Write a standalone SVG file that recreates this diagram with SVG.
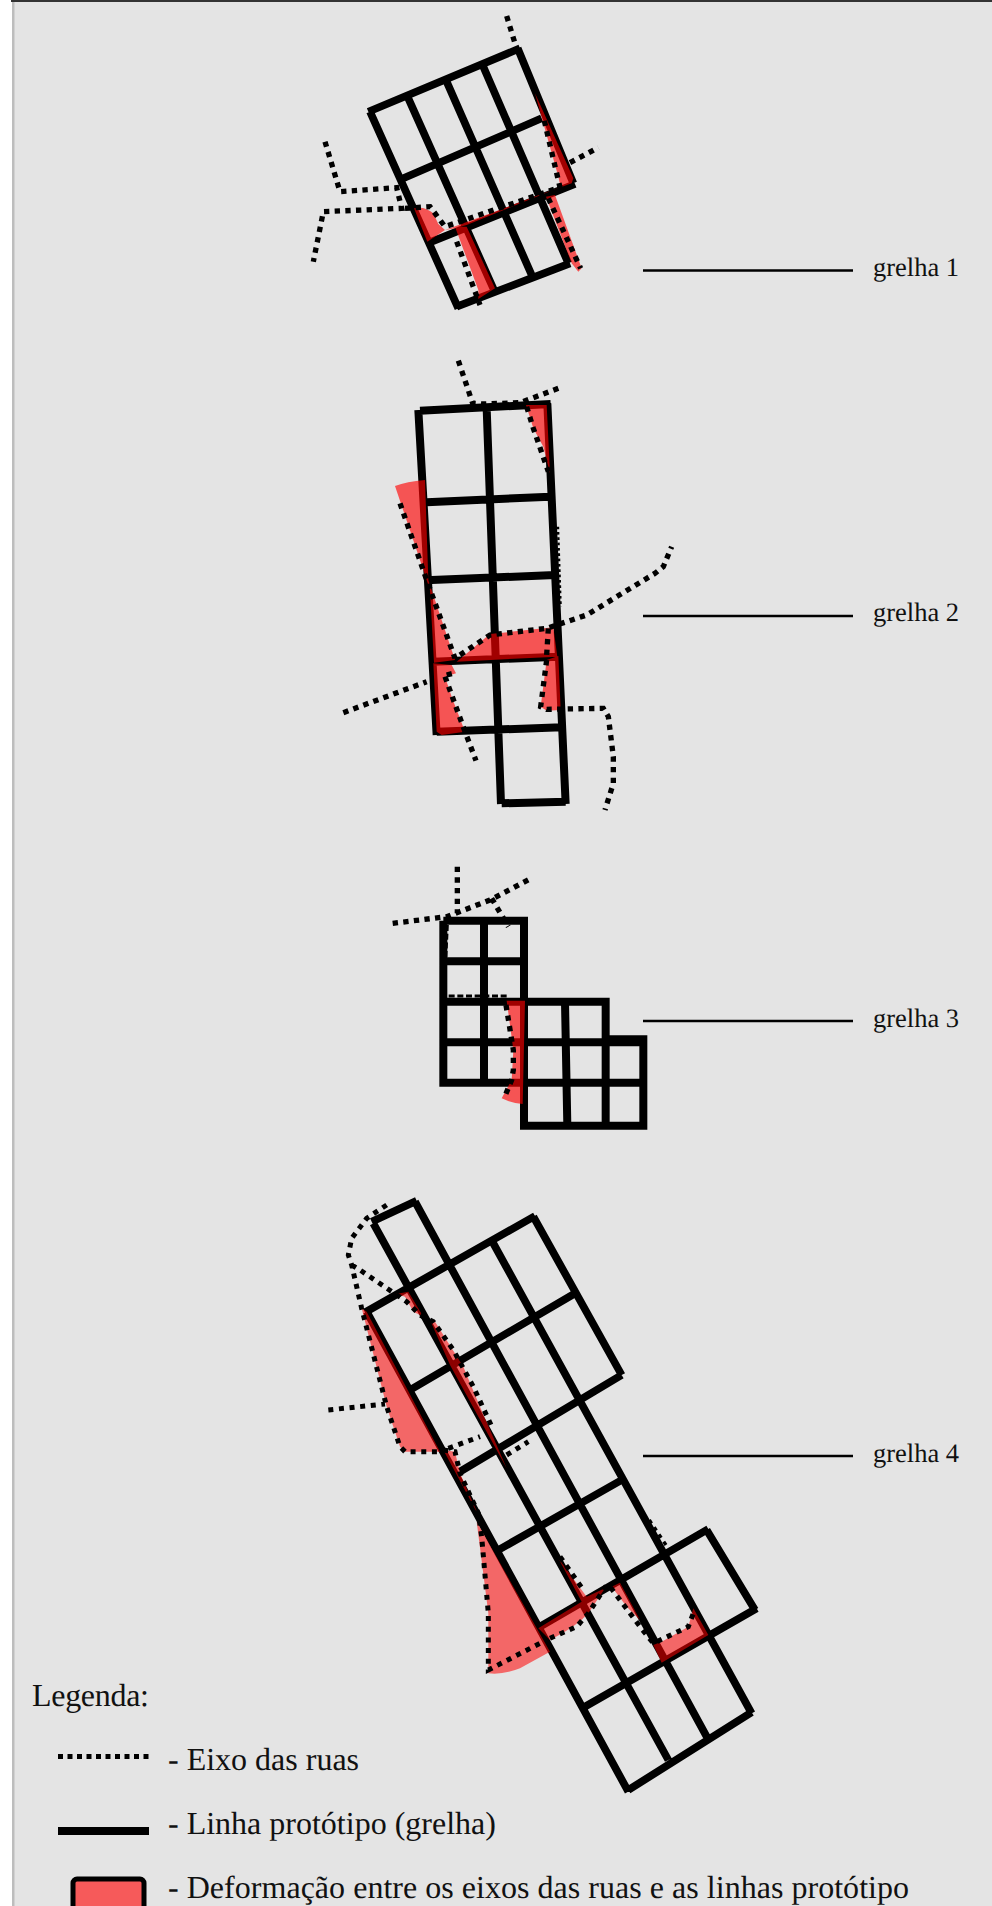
<svg xmlns="http://www.w3.org/2000/svg" width="992" height="1906" viewBox="0 0 992 1906">
<style>
.g{fill:none;stroke:#000;stroke-linecap:butt;stroke-linejoin:miter}
.d{fill:none;stroke:#000;stroke-linejoin:miter}
.r{fill:#ff0000;stroke:none}
.leader{stroke:#000;stroke-width:2.5;fill:none}
text{font-family:"Liberation Serif","Times New Roman",serif;fill:#111;text-rendering:geometricPrecision}
.lab{font-size:26.5px}
.leg{font-size:32px}
</style>
<rect x="0" y="0" width="992" height="1906" fill="#ffffff"/>
<rect x="12" y="0" width="980" height="1906" fill="#e4e4e4"/>
<rect x="12" y="0" width="2.5" height="1906" fill="#bdbdbd"/>
<rect x="11" y="0" width="981" height="2" fill="#333333"/>

<g id="grelha1" transform="translate(290,0) scale(0.33333)">
<path class="g" stroke-width="23" d="M240,335L505,925M355,295L612,870M470,245L725,825M580,200L835,790M683,145L850,550M235,335L690,145M340,535L755,355M425,725L855,552M500,920L840,790"/>
<path class="r" opacity="0.63" d="M372,625Q405,618 430,640L445,672L465,690L412,725ZM495,680L530,680L615,865L565,897L565,870ZM465,690L810,562L530,675L495,685ZM735,280L850,535L845,550L812,562L805,530L760,370ZM768,590L795,585L875,805L865,815L845,790Z"/>
<path class="d" stroke-width="16" stroke-dasharray="16 16" d="M650,48L675,130M105,425L150,575L320,563L335,625L100,635L70,785M345,625L420,620L465,680L810,562L760,350M840,488L925,443M500,725L570,915M775,595L872,805"/>
</g>

<g id="grelha2" transform="translate(320,340) scale(0.33333)">
<path class="d" stroke-width="7" stroke-dasharray="8 8" d="M714,560L722,800"/>
<path class="g" stroke-width="24" d="M295,210L350,1185M300,212L692,192M682,190L737,1392M500,205L543,1392M320,487L690,470M335,720L705,705M340,965L715,950M350,1175L725,1162M545,1390L737,1385"/>
<path class="r" opacity="0.63" d="M618,195L680,195L690,400L670,320L640,265ZM225,438Q260,425 315,420L325,720L405,960L342,968L330,750L310,690ZM410,965L510,882L700,862L712,950ZM340,970L395,975L408,1000L375,1010L395,1070L435,1175L365,1185L350,1175ZM680,960L715,948L722,1110L680,1112L662,1100Z"/>
<path class="d" stroke-width="16" stroke-dasharray="16 16" d="M415,62L458,190L490,192L600,188L725,141M620,200L640,265L685,395M240,490L320,720L405,955M375,1010L435,1175L468,1262M70,1118L320,1025M380,1005L408,998M420,945L510,885L680,865L800,825L1005,700L1030,680L1055,620M685,865L680,945M680,960L662,1100L680,1108L850,1105L865,1130L880,1250L880,1330L855,1410"/>
</g>

<g id="grelha3" transform="translate(370,850) scale(0.33333)">
<path class="d" stroke-width="9" stroke-dasharray="18 8" d="M232,225L222,440M210,438L410,438"/>
<path class="g" stroke-width="24" stroke-linejoin="round" stroke-linecap="round" d="M220,212H462V827H820V568H707M220,212V698H820M342,212V698M220,334H462M220,455H707V827M220,577H820M585,455L592,827"/>
<path class="r" opacity="0.63" d="M410,452L465,452L458,762Q425,760 395,745L425,690L430,600Z"/>
<path class="d" stroke-width="16" stroke-dasharray="16 16" d="M68,220L230,200L360,150L478,88M262,50L262,190M365,145L415,230M408,465L430,600L430,660L425,690L402,745"/>
</g>

<g id="grelha4" transform="translate(310,1180) scale(0.33333)">
<path class="d" stroke-width="10" stroke-dasharray="12 14" d="M1018,1020L1068,1095"/>
<path class="g" stroke-width="23" d="M170,395L955,1835M190,130L1075,1740M315,65L1190,1670M550,190L1325,1600M670,110L935,585M1190,1050L1335,1290M185,125L320,62M165,397L675,108M300,630L795,340M450,875L935,585M565,1110L935,900M690,1340L1195,1047M825,1580L1340,1285M955,1830L1325,1597"/>
<path class="r" opacity="0.55" d="M155,385L170,395L390,815L285,815L270,800L230,680ZM258,342L295,335L340,410L310,395L285,350ZM360,420L375,425L460,560L510,680L590,865L420,555ZM400,810L435,815L450,880L505,1005ZM500,1025L720,1415L630,1465Q580,1485 535,1480L535,1300ZM685,1345L815,1265L745,1135L830,1250L885,1225L835,1300Q800,1340 720,1380ZM905,1220L930,1208L990,1320L950,1280ZM1030,1395L1055,1385L1135,1340L1150,1285L1195,1365L1055,1448Z"/>
<path class="d" stroke-width="15" stroke-dasharray="15 17" d="M230,75L170,115L125,175L115,225L125,255L155,385L230,680L270,800L285,815L385,815M55,690L225,672M125,255L150,270L290,365L330,405L370,425L430,510L490,620L550,750M415,805L510,770M590,825L655,785M400,810L435,815L450,880L505,1000L515,1070L535,1300L535,1470L690,1390M720,1375L800,1340L835,1300L890,1215L900,1220L990,1340L1030,1390L1135,1340L1150,1300M750,1130L820,1230"/>
</g>

<g id="connectors">
<path class="leader" d="M643,270.5H853M643,616H853M643,1021H853M643,1456H853"/>
</g>
<text class="lab" x="873" y="276">grelha 1</text>
<text class="lab" x="873" y="621">grelha 2</text>
<text class="lab" x="873" y="1027">grelha 3</text>
<text class="lab" x="873" y="1462">grelha 4</text>

<g id="legenda">
<text class="leg" x="32" y="1706" textLength="117">Legenda:</text>
<path d="M58,1756.500H149" stroke="#000" stroke-width="5" stroke-dasharray="5 4.500" fill="none"/>
<text class="leg" x="168" y="1770">- Eixo das ruas</text>
<path d="M58,1831H149" stroke="#000" stroke-width="8" fill="none"/>
<text class="leg" x="168" y="1834">- Linha protótipo (grelha)</text>
<rect x="73" y="1879" width="71" height="32" rx="4" fill="#f65a5a" stroke="#000" stroke-width="5"/>
<text class="leg" x="168" y="1898" textLength="741">- Deformação entre os eixos das ruas e as linhas protótipo</text>
</g>
</svg>
